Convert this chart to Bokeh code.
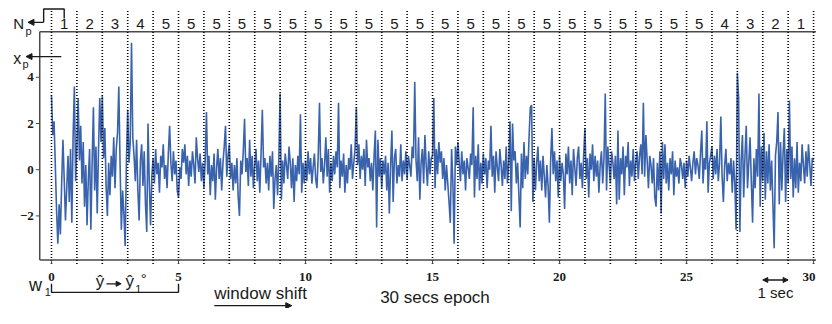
import numpy as np
from bokeh.plotting import figure
from bokeh.models import Range1d, Arrow, NormalHead
from bokeh.core.properties import value
from bokeh.embed import file_html
from bokeh.resources import INLINE

# ---------------- data (one list per second, 20 samples each) ----------------
SAMPLES_PER_SEC = 20

sec_00 = [3.2, 1.5, 2.1, 0.2, -1.8, -3.2, -1.5, -2.8, -0.6, 1.3, -0.4, -2.2, -0.8, 0.6, -1.4, 0.9, -2.3, 1.4, 3.6, -0.5]
sec_01 = [1.0, 3.1, 0.4, 1.9, -0.6, 1.2, -1.6, 0.2, -2.4, -0.4, 0.9, -2.6, 0.3, 2.7, -0.9, 1.0, -1.9, 0.8, 3.1, 1.2]
sec_02 = [3.2, 0.5, 1.8, -0.7, -2.0, 0.3, -1.1, 0.6, -0.3, 1.4, -0.8, 0.9, 1.6, 3.6, 0.2, -2.6, -0.9, -1.9, -3.3, 0.4]
sec_03 = [2.6, 0.3, 1.2, 5.5, 1.4, 0.6, -0.5, 1.3, -0.9, -2.2, 0.4, 1.1, -0.7, 0.8, -1.5, -2.7, 2.0, -0.6, -2.4, -0.3]
sec_04 = [0.5, -0.6, 0.9, -0.2, 0.3, -1.0, 0.6, 0.1, 1.1, -0.4, 0.2, -0.8, 0.7, 1.9, 0.3, -0.5, 0.8, -0.2, 0.4, -0.9]
sec_05 = [-1.2, 0.1, -0.4, 0.9, 0.3, 1.1, -0.2, 0.6, -0.7, 0.4, -0.3, 0.8, 0.2, -0.6, 1.4, 0.5, -0.1, 0.7, -0.5, 0.3]
sec_06 = [-0.8, 0.4, 2.5, -0.2, 0.6, -1.1, 0.2, -0.5, 0.7, -1.3, 0.1, 0.9, -0.4, 0.5, -0.9, 0.3, 1.0, 1.9, -0.3, 0.6]
sec_07 = [1.1, -0.4, 0.3, -0.9, 0.2, -0.6, 0.5, -1.2, -2.0, 0.4, -0.2, 0.8, 2.2, -0.1, 0.5, -0.7, 1.3, -0.3, 0.6, -0.8]
sec_08 = [0.2, 0.9, -0.5, 0.4, -1.0, 0.7, 2.6, 0.1, 0.5, -0.6, 0.3, -0.9, 0.6, -0.3, 0.8, -1.7, -0.4, 0.2, -1.1, 0.5]
sec_09 = [3.3, -1.3, 0.4, -0.6, 0.7, 0.2, -0.4, 1.0, 0.3, -0.8, 0.5, -1.4, 0.2, -0.5, 0.6, -0.2, 2.4, -1.0, 0.3, -0.6]
sec_10 = [0.4, -0.5, 0.8, -0.2, 0.5, -0.6, 0.1, 0.7, -0.4, -0.8, 0.6, 2.9, -0.1, 0.5, -0.6, 0.2, 1.4, -0.3, 0.9, -1.0]
sec_11 = [0.3, -0.5, 0.6, -0.2, 0.8, 0.1, 2.9, -0.8, 0.4, -0.3, 0.7, -1.0, 0.2, -0.6, 0.5, 0.0, 1.1, -0.4, 0.3, 0.9]
sec_12 = [2.7, 0.2, 1.1, -0.4, 0.6, 0.0, 0.9, -0.7, 1.3, 0.1, 0.5, -0.5, 0.3, -0.9, 0.6, 1.7, -2.5, 1.3, -0.3, 0.5]
sec_13 = [-0.8, 0.4, -0.2, 0.6, -0.9, 0.3, -1.9, 0.2, 1.7, -1.4, 0.5, 0.9, -0.6, 0.2, -0.3, 1.1, -0.5, 0.4, -0.2, 0.8]
sec_14 = [-0.4, 0.6, 0.2, -0.3, 1.0, 0.5, 3.8, 0.4, -0.5, 1.4, -1.3, 0.3, 0.9, -0.6, 1.5, 0.2, -0.7, 0.8, -0.2, 0.5]
sec_15 = [0.6, 3.1, -0.8, 0.9, -0.2, 1.2, 0.3, 0.8, -0.4, 0.5, -0.9, 0.2, -0.6, -1.4, -2.3, 0.9, -0.5, -3.2, 1.0, 0.2]
sec_16 = [1.2, 0.3, -0.5, 0.8, -0.2, 0.4, -0.9, 0.5, 0.1, -0.4, 0.7, 0.2, 2.7, -1.2, 0.6, -0.4, 1.1, -0.9, 0.3, -0.6]
sec_17 = [0.7, -0.2, 0.5, -0.8, 0.4, 0.0, 1.9, -0.3, 0.6, -1.0, 0.8, 0.1, -0.5, 0.9, 0.2, -0.7, 0.4, -0.4, 1.0, -0.6]
sec_18 = [0.3, 2.1, -1.8, 2.0, 0.4, 0.8, -0.6, 0.3, -1.1, -2.5, 0.7, -0.8, 1.2, -0.4, 0.6, -0.2, 1.4, 2.7, 2.8, -1.4]
sec_19 = [0.5, -0.9, 0.3, 1.0, -0.5, 0.4, -0.9, 0.6, -0.3, -1.2, 0.2, -0.7, -2.3, 0.4, 1.8, -0.2, 0.8, -0.5, 0.4, -1.2]
sec_20 = [0.6, -0.5, 0.3, -0.2, -1.7, 0.7, -0.2, 1.0, -0.6, 0.4, -1.1, 0.9, 0.1, -0.7, 0.5, 1.0, -0.4, 0.3, -0.8, 0.6]
sec_21 = [1.8, -0.4, 0.5, -1.2, 0.7, 0.0, 1.1, -0.5, 0.6, -0.3, 0.4, -1.0, 0.2, 0.8, -0.6, 0.5, 3.3, -0.9, 1.0, 0.2]
sec_22 = [-0.6, 0.8, 0.3, -0.4, 0.6, -1.5, 1.7, -1.3, 0.5, -0.2, 1.0, -1.1, 0.6, 0.1, 1.2, -0.7, 0.4, -0.3, 0.9, -0.5]
sec_23 = [0.3, 0.8, -0.4, 0.6, 1.1, -0.2, 2.9, -0.3, 1.5, 0.4, -0.8, 0.6, 0.2, -0.6, 0.5, -1.2, -1.6, 0.3, -0.9, 0.8]
sec_24 = [-1.9, 1.2, -0.4, 1.1, -0.6, 0.3, -0.9, 0.5, -0.2, 0.8, -1.1, 0.4, -0.3, 0.1, -0.6, 0.5, 0.2, -0.4, 0.3, -0.8]
sec_25 = [0.4, -0.3, 0.6, 0.1, -0.5, 0.3, 0.8, -0.2, 0.5, 0.2, -0.4, 0.7, 1.7, -0.6, 0.5, 0.0, 2.1, -1.0, 0.3, 0.6]
sec_26 = [1.0, -0.4, 0.6, -0.2, 0.9, -0.5, 0.3, 2.3, -0.3, -1.4, 0.2, 0.9, -0.5, 0.3, -0.2, 0.5, -1.0, 0.4, -0.6, -2.6]
sec_27 = [4.2, 3.1, -2.7, 0.4, 1.5, -1.2, 0.6, 1.9, -0.8, 0.3, 1.4, -0.5, -2.3, 0.5, -0.8, 0.9, -0.3, 3.3, -1.6, 1.0]
sec_28 = [-0.5, 1.6, -1.3, 0.8, -0.6, 1.1, -0.9, 0.4, -1.5, -3.4, 0.6, 1.2, 2.5, -1.5, 1.2, -0.9, 0.7, 1.8, -1.4, 0.9]
sec_29 = [-0.6, 3.0, -0.4, 1.0, -1.2, 0.5, -0.8, 1.2, -1.0, 0.3, -0.5, 1.1, 0.2, -0.6, 0.8, -0.3, 1.1, 0.2, -0.7, 0.5]
sec_30_end = [0.4]

second_marks = [0, 1, 2, 3, 4, 5, 6, 7, 8, 9, 10, 11, 12, 13, 14, 15, 16, 17,
                18, 19, 20, 21, 22, 23, 24, 25, 26, 27, 28, 29, 30]
window_counts = [1, 2, 3, 4, 5, 5, 5, 5, 5, 5, 5, 5, 5, 5, 5, 5, 5, 5, 5, 5,
                 5, 5, 5, 5, 5, 5, 4, 3, 2, 1]
x_ticks = [0, 5, 10, 15, 20, 25]
x_tick_labels = ["0", "5", "10", "15", "20", "25"]
x_last_tick, x_last_label = 30, "30"
y_ticks = [-2, 0, 2, 4]
y_tick_labels = ["\u22122", "0", "2", "4"]

# ---------------- layout helpers (reference pixels -> data) ----------------
PX0, PX_PER_SEC = 52.0, 25.9
PY0, PY_PER_UNIT = 178.0, 24.3
REF_W, REF_H = 832, 324


def X(px):
    return (px - PX0) / PX_PER_SEC


def Y(py):
    return (PY0 - py) / PY_PER_UNIT


W, H = 816, 308

AX_LEFT = X(40)
AX_RIGHT = X(REF_W)
AX_TOP = Y(33)
AX_BOT = Y(273)

FONT = "Liberation Sans"
TFONT = "Liberation Sans Narrow"
INK = "#1a1a1a"
SPINE = "#4a4a4a"
BLUE = "#3a63ad"

p = figure(width=W, height=H, x_range=Range1d(X(0), X(REF_W)), y_range=Range1d(Y(REF_H), Y(0)),
           x_axis_type=None, y_axis_type=None, toolbar_location=None,
           output_backend="svg", min_border=0, min_border_left=0, min_border_right=0,
           min_border_top=0, min_border_bottom=0)
p.outline_line_color = None
p.xgrid.visible = False
p.ygrid.visible = False
p.background_fill_color = "white"


def label(px, py, txt, size, align="left", font=FONT, style="normal"):
    p.text(x=[X(px)], y=[Y(py)], text=[txt], text_font=value(font), text_font_size=size,
           text_font_style=style, text_align=align, text_baseline="middle", text_color=INK)


def arrow(px0, py0, px1, py1, size=6, both=False, width=1.4):
    head = dict(size=size, fill_color=INK, line_color=INK)
    p.add_layout(Arrow(start=NormalHead(**head) if both else None, end=NormalHead(**head),
                       x_start=X(px0), y_start=Y(py0), x_end=X(px1), y_end=Y(py1),
                       line_color=INK, line_width=width))


# signal
signal = np.array(sec_00 + sec_01 + sec_02 + sec_03 + sec_04 + sec_05 + sec_06 + sec_07 +
                  sec_08 + sec_09 + sec_10 + sec_11 + sec_12 + sec_13 + sec_14 + sec_15 +
                  sec_16 + sec_17 + sec_18 + sec_19 + sec_20 + sec_21 + sec_22 + sec_23 +
                  sec_24 + sec_25 + sec_26 + sec_27 + sec_28 + sec_29 + sec_30_end)
t = np.arange(len(signal)) / SAMPLES_PER_SEC
p.line(t, signal, line_color=BLUE, line_width=1.6)

# frame lines
p.line([AX_LEFT, AX_RIGHT], [AX_TOP, AX_TOP], line_color=SPINE, line_width=1.5)
p.line([AX_LEFT, AX_RIGHT], [AX_BOT, AX_BOT], line_color=SPINE, line_width=1.5)
p.line([AX_LEFT, AX_LEFT], [AX_BOT, AX_TOP], line_color=SPINE, line_width=1.5)

# dotted second boundaries
p.segment(x0=second_marks, x1=second_marks, y0=[Y(11)] * len(second_marks),
          y1=[Y(279)] * len(second_marks), line_color="black", line_width=1.6,
          line_dash="1 2")

# y ticks and labels
p.segment(x0=[X(36)] * len(y_ticks), x1=[AX_LEFT] * len(y_ticks), y0=y_ticks, y1=y_ticks,
          line_color=SPINE, line_width=1)
p.text(x=[X(34)] * len(y_ticks), y=y_ticks, text=y_tick_labels, text_font=value(TFONT),
       text_font_style="bold", text_font_size="13px", text_align="right",
       text_baseline="middle", text_color=INK)

# x ticks and labels
all_x_ticks = x_ticks + [x_last_tick]
p.segment(x0=all_x_ticks, x1=all_x_ticks, y0=[AX_BOT] * len(all_x_ticks),
          y1=[Y(277)] * len(all_x_ticks), line_color=SPINE, line_width=1)
p.text(x=x_ticks, y=[Y(291)] * len(x_ticks), text=x_tick_labels, text_font=value(TFONT),
       text_font_style="bold", text_font_size="13px", text_align="center",
       text_baseline="middle", text_color=INK)
p.text(x=[X(REF_W - 1)], y=[Y(291)], text=[x_last_label], text_font=value(TFONT),
       text_font_style="bold", text_font_size="13px", text_align="right",
       text_baseline="middle", text_color=INK)

# window counts on top
p.text(x=[s + 0.5 for s in second_marks[:-1]], y=[Y(24.5)] * len(window_counts),
       text=[str(c) for c in window_counts], text_font=value(FONT), text_font_size="15px",
       text_align="center", text_baseline="middle", text_color=INK)

# N_p label and bracket arrow
label(13, 24, "N", "15px")
label(25.5, 32, "p", "11px")
p.line([0.5, 0.5, X(44), X(44)], [Y(19), Y(9), Y(9), Y(23)], line_color=INK, line_width=1.4)
arrow(44, 23, 28, 23)

# x_p label and arrow
label(13, 61, "x", "16px")
label(22.5, 67, "p", "11px")
arrow(62, 59, 26, 59)

# w1 window bracket with model mapping
label(29, 299, "w", "18px")
label(45, 307, "1", "11px")
p.line([0, 0, 5, 5], [Y(298), Y(307), Y(307), Y(298)], line_color=INK, line_width=1.4)
label(97, 296, "\u0177", "17px")
arrow(108, 298, 123, 298, size=5, width=1.3)
label(127.5, 296, "\u0177", "17px")
label(137.5, 303, "1", "11px")
label(143, 292, "\u00b0", "15px")

# window shift
label(218, 308.5, "window shift", "17px")
arrow(218, 321, 297, 321)

# epoch label
label(443, 312.5, "30 secs epoch", "17px", align="center")

# 1 sec
p.add_layout(Arrow(start=NormalHead(size=5, fill_color=INK, line_color=INK),
                   end=NormalHead(size=5, fill_color=INK, line_color=INK),
                   x_start=28, y_start=Y(294), x_end=29, y_end=Y(294),
                   line_color=INK, line_width=1.3))
p.text(x=[28.5], y=[Y(307)], text=["1 sec"], text_font=value(FONT), text_font_size="15px",
       text_align="center", text_baseline="middle", text_color=INK)

open("out.html", "w").write(file_html(p, INLINE))
